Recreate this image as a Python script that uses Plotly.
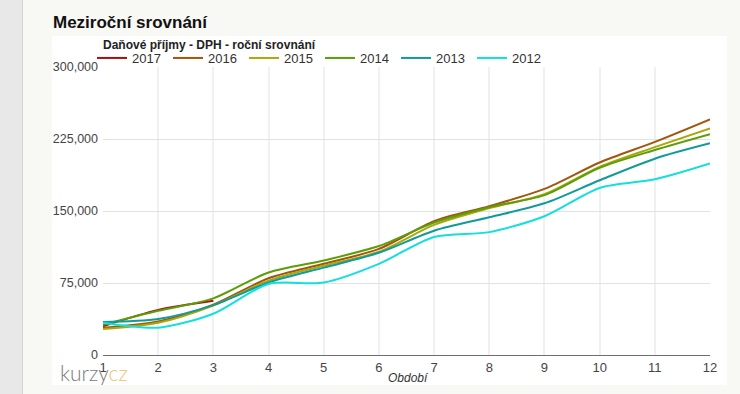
import plotly.graph_objects as go

periods = [1, 2, 3, 4, 5, 6, 7, 8, 9, 10, 11, 12]
years = ["2017", "2016", "2015", "2014", "2013", "2012"]
v2017 = [30000, 47000, 56500]
v2016 = [28500, 35000, 52500, 80000, 95000, 110500, 139500, 155000, 173000, 200500, 222000, 245500]
v2015 = [27000, 33500, 51500, 77500, 93000, 107500, 135500, 153000, 167500, 196000, 216500, 236000]
v2014 = [31500, 46000, 59000, 86000, 98500, 113500, 138000, 154000, 166500, 195000, 213500, 230000]
v2013 = [34500, 37500, 52000, 75500, 91000, 106500, 129500, 143500, 158000, 182000, 204500, 220500]
v2012 = [33500, 28500, 43000, 74000, 75500, 95000, 123000, 128000, 144500, 174000, 183000, 199500]
series = [v2017, v2016, v2015, v2014, v2013, v2012]
colors = ["#a80f0f", "#a3550c", "#a8a80a", "#5c9e08", "#109a9a", "#14dede"]
yticks = [0, 75000, 150000, 225000, 300000]

FONT = "Liberation Sans, Arial, sans-serif"
W, H = 740, 394
L, R, T, B = 103, 30, 67, 39
pw, ph = W - L - R, H - T - B

def px(x):
    return (x - L) / pw

def py(y):
    return (H - B - y) / ph

fig = go.Figure()
for name, vals, col in zip(years, series, colors):
    fig.add_trace(go.Scatter(
        x=periods[:len(vals)], y=vals, name=name, mode="lines",
        line=dict(color=col, width=2, shape="spline", smoothing=0.8),
        hoverinfo="x+y+name",
    ))

shapes = [
    dict(type="rect", xref="paper", yref="paper", x0=px(-5), x1=px(22), y0=py(-5), y1=py(H + 5),
         fillcolor="#e8e8e8", line=dict(width=0), layer="below"),
    dict(type="line", xref="paper", yref="paper", x0=px(22.5), x1=px(22.5), y0=py(-5), y1=py(H + 5),
         line=dict(color="#d6d6d6", width=1), layer="below"),
    dict(type="rect", xref="paper", yref="paper", x0=px(52), x1=px(727), y0=py(385), y1=py(36),
         fillcolor="#ffffff", line=dict(width=0), layer="below"),
]

annotations = [
    dict(text="<b>Meziroční srovnání</b>", xref="paper", yref="paper", x=px(51), y=py(22),
         xanchor="left", yanchor="middle", showarrow=False,
         font=dict(family=FONT, size=17, color="#111111")),
    dict(text="<b>Daňové příjmy - DPH - roční srovnání</b>", xref="paper", yref="paper",
         x=px(101), y=py(45), xanchor="left", yanchor="middle", showarrow=False,
         font=dict(family=FONT, size=12, color="#222222")),
    dict(text="<i>Období</i>", xref="paper", yref="paper", x=px(408), y=py(378),
         xanchor="center", yanchor="middle", showarrow=False,
         font=dict(family=FONT, size=12, color="#333333")),
    dict(text="kurzy<span style='color:#e8c46c'>cz</span>", xref="paper", yref="paper",
         x=px(58), y=py(372), xanchor="left", yanchor="middle", showarrow=False,
         font=dict(family="Lato, sans-serif", size=21, color="#7a7a7a", weight=300)),
]

fig.update_layout(
    width=W, height=H,
    margin=dict(l=L, r=R, t=T, b=B, pad=0),
    paper_bgcolor="#f8f8f4", plot_bgcolor="#ffffff",
    font=dict(family=FONT, size=13, color="#333333"),
    shapes=shapes, annotations=annotations,
    showlegend=True,
    legend=dict(orientation="h", x=px(92), y=py(43), xanchor="left", yanchor="top",
                bgcolor="rgba(0,0,0,0)", font=dict(family=FONT, size=13, color="#333333"),
                entrywidth=31, entrywidthmode="pixels", traceorder="normal",
                tracegroupgap=0, itemwidth=30),
    xaxis=dict(range=[1, 12], tickmode="array", tickvals=periods, ticktext=[str(p) for p in periods],
               showgrid=True, gridcolor="#f0f0f0", gridwidth=2, zeroline=False,
               showline=True, linecolor="#6e6e6e", linewidth=1, ticks="",
               tickfont=dict(family=FONT, size=13, color="#444444"), fixedrange=True),
    yaxis=dict(range=[0, 300000], tickmode="array", tickvals=yticks,
               ticktext=[f"{v:,}" for v in yticks],
               showgrid=True, gridcolor="#e2e2e2", gridwidth=1, zeroline=False,
               showline=False, ticks="", ticklabelstandoff=4,
               tickfont=dict(family=FONT, size=12.5, color="#444444"), fixedrange=True),
)

fig.write_html(
    "out.html",
    config={"displayModeBar": False},
    post_script="document.body.style.margin='0';document.body.style.overflow='hidden';",
)
